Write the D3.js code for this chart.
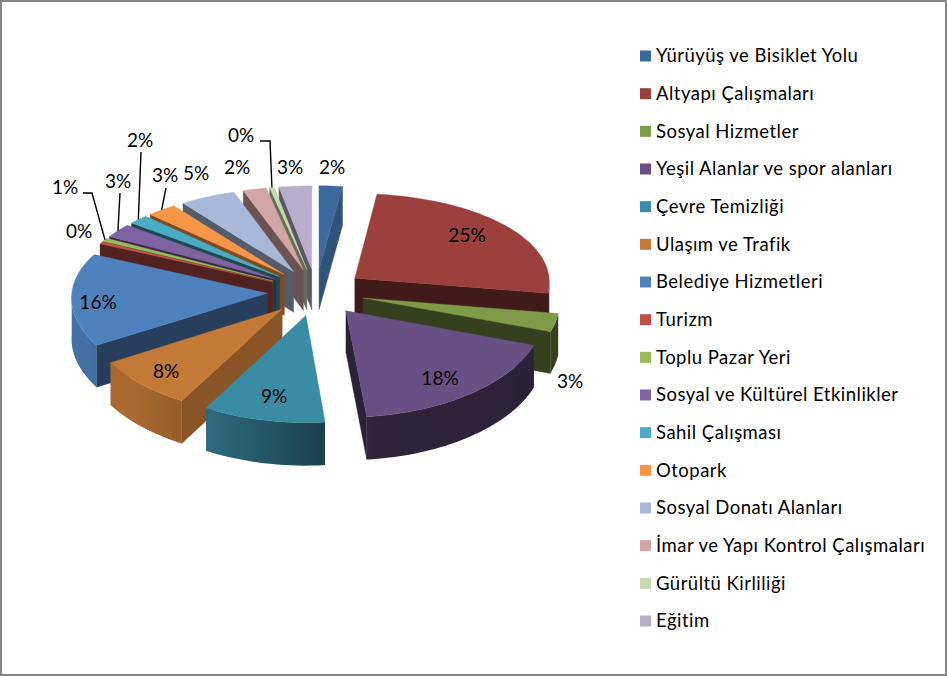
<!DOCTYPE html>
<html><head><meta charset="utf-8">
<script src="https://cdn.jsdelivr.net/npm/d3@7/dist/d3.min.js"></script>
<style>html,body{margin:0;padding:0;background:#fff}svg{display:block}text{font-family:Lato,"Open Sans",sans-serif;fill:#000}</style>
</head><body><svg id="c" width="947" height="676"></svg>
<script>
const categories = ["Yürüyüş ve Bisiklet Yolu","Altyapı Çalışmaları","Sosyal Hizmetler","Yeşil Alanlar ve spor alanları","Çevre Temizliği","Ulaşım ve Trafik","Belediye Hizmetleri","Turizm","Toplu Pazar Yeri","Sosyal ve Kültürel Etkinlikler","Sahil Çalışması","Otopark","Sosyal Donatı Alanları","İmar ve Yapı Kontrol Çalışmaları","Gürültü Kirliliği","Eğitim"];
const values = [2.0,25.3,3.0,17.7,9.5,8.0,15.7,0.4,0.6,2.55,1.7,2.55,4.8,2.0,0.4,2.8];
const percentLabels = ["2%","25%","3%","18%","9%","8%","16%","0%","1%","3%","2%","3%","5%","2%","0%","3%"];
const colors = ["#3D6A9E","#9B403D","#7F9A48","#684F84","#3A8CA4","#C47A37","#4F81BD","#C0504D","#9BBB59","#8064A2","#4BACC6","#F79646","#A7B8D8","#D3A5A4","#C8D9AD","#B8AECC"];
const cutShade = [.78,.42,.42,.42,.5,.7,.49,.42,.42,.42,.42,.5,.5,.5,.5,.5];
const labelPos = [[332,167],[467,235],[570,381],[440,378],[274,396],[166,371],[98,302],[79,231],[65,187],[118,181],[140,140],[165,175],[196,173],[237,167],[241,135],[290,167]];
const leaders = [null,null,null,null,null,null,null,null,[[83,193],[92,193]],[[120,193],[120,193]],[[141,152],[141,152]],[[166,188],[166,188]],null,null,[[260,141],[270,141]],null];

const svg = d3.select("#c");
const defs = svg.append("defs");
svg.append("rect").attr("x",1).attr("y",1).attr("width",945).attr("height",674).attr("fill","#fff").attr("stroke","#868686").attr("stroke-width",2);

const arcs = d3.pie().sort(null).value(d=>d)(values);
const cx = 316, cy = 292, explode = .249, depth = 41;
const sx = d3.scaleLinear().domain([0,1]).range([cx,cx+195.5]);
const sy = d3.scaleLinear().domain([0,1]).range([cy,cy+94]);
const rimShade = d3.scaleLinear().domain([90,172,205,225,300]).range([.42,.44,.74,.86,.88]).clamp(true);
const project = (X,Z,low) => {
  const wx = 1-.04*Z, wy = 1-.0843*Z;
  return [sx(X/wx), sy(Z/wy)+(low?depth*(1+.04*Z):0)];
};
const shade = (c,k) => { const o=d3.rgb(c); return d3.rgb(o.r*k,o.g*k,o.b*k).formatHex(); };
const line = d3.line();
const slices = arcs.map((a,i)=>{
  const mid=(a.startAngle+a.endAngle)/2;
  const ax=explode*Math.sin(mid), az=-explode*Math.cos(mid);
  const rim=t=>[ax+Math.sin(t), az-Math.cos(t)];
  return {i,a,mid,ax,az,rim};
}).sort((p,q)=>p.az-q.az);

const g = svg.append("g");
slices.forEach(s=>{
  const {i,a,ax,az,rim}=s, col=colors[i];
  const poly=(pts,fill)=>g.append("path").attr("d",line(pts)+"Z").attr("fill",fill).attr("stroke",fill).attr("stroke-width",.4);
  const face=t=>{
    const r=rim(t);
    poly([project(ax,az),project(r[0],r[1]),project(r[0],r[1],true),project(ax,az,true)],shade(col,cutShade[i]));
  };
  if(Math.sin(a.startAngle)<-1e-6) face(a.startAngle);
  if(Math.sin(a.endAngle)>1e-6) face(a.endAngle);
  const steps=Math.max(2,Math.ceil((a.endAngle-a.startAngle)/(Math.PI/90)));
  const ts=d3.range(steps+1).map(k=>a.startAngle+(a.endAngle-a.startAngle)*k/steps);
  const vis=ts.filter(t=>Math.cos(t)<0);
  if(vis.length>1){
    const upper=vis.map(t=>{const r=rim(t);return project(r[0],r[1]);});
    const lower=vis.map(t=>{const r=rim(t);return project(r[0],r[1],true);}).reverse();
    const x1=upper[0][0], x2=upper[upper.length-1][0];
    const grad=defs.append("linearGradient").attr("id","rim"+i).attr("gradientUnits","userSpaceOnUse")
      .attr("x1",x1).attr("x2",x2).attr("y1",0).attr("y2",0);
    vis.forEach((t,k)=>grad.append("stop").attr("offset",(upper[k][0]-x1)/(x2-x1))
      .attr("stop-color",shade(col,rimShade(t*180/Math.PI))));
    g.append("path").attr("d",line(upper.concat(lower))+"Z").attr("fill",`url(#rim${i})`);
  }
  const top=[project(ax,az)].concat(ts.map(t=>{const r=rim(t);return project(r[0],r[1]);}));
  poly(top,col);
});

leaders.forEach((l,i)=>{
  if(!l) return;
  const s=slices.find(v=>v.i===i);
  const r=s.rim(s.mid), end=project(r[0],r[1]);
  svg.append("path").attr("d",line([l[0],l[1],end])).attr("fill","none").attr("stroke","#000").attr("stroke-width",1.4);
});
percentLabels.forEach((t,i)=>{
  svg.append("text").attr("x",labelPos[i][0]).attr("y",labelPos[i][1]).attr("dy",".35em").attr("text-anchor","middle")
    .attr("font-size",19).text(t);
});
const ly = d3.scalePoint().domain(categories).range([56,621]);
const leg = svg.append("g").selectAll("g").data(categories).join("g").attr("transform",d=>`translate(640,${ly(d)})`);
leg.append("rect").attr("x",0).attr("y",-5.5).attr("width",11).attr("height",11).attr("fill",(d,i)=>colors[i]);
leg.append("text").attr("x",16).attr("dy",".35em").attr("font-size",18.5).attr("letter-spacing",.48).text(d=>d);
</script></body></html>
